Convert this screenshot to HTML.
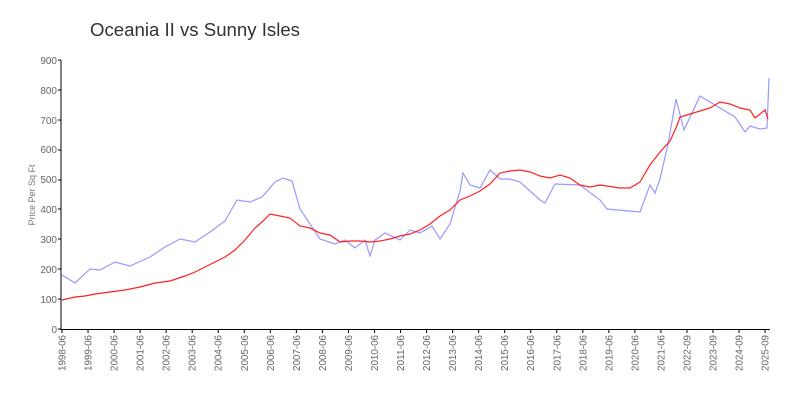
<!DOCTYPE html>
<html><head><meta charset="utf-8"><style>
body{margin:0;background:#fff;}
svg{display:block;font-family:"Liberation Sans",sans-serif;}
</style></head><body>
<svg width="800" height="400" viewBox="0 0 800 400" xmlns="http://www.w3.org/2000/svg">
<text x="90" y="36" font-size="18" fill="#333" font-family="Liberation Sans, sans-serif" textLength="210" lengthAdjust="spacingAndGlyphs">Oceania II vs Sunny Isles</text>
<text transform="translate(35,195) rotate(-90)" text-anchor="middle" font-size="9" fill="#777">Price Per Sq Ft</text>
<g font-size="10" fill="#666" text-anchor="end">
<text x="57" y="333">0</text><text x="57" y="303">100</text><text x="57" y="273">200</text><text x="57" y="243">300</text><text x="57" y="213">400</text><text x="57" y="183">500</text><text x="57" y="153">600</text><text x="57" y="124">700</text><text x="57" y="94">800</text><text x="57" y="64">900</text>
</g>
<g stroke="#000" stroke-width="1">
<line x1="61" y1="60" x2="61" y2="330"/>
<line x1="61" y1="329.5" x2="770" y2="329.5"/>
<line x1="58" y1="329" x2="61" y2="329"/><line x1="58" y1="299" x2="61" y2="299"/><line x1="58" y1="269" x2="61" y2="269"/><line x1="58" y1="239" x2="61" y2="239"/><line x1="58" y1="209" x2="61" y2="209"/><line x1="58" y1="180" x2="61" y2="180"/><line x1="58" y1="150" x2="61" y2="150"/><line x1="58" y1="120" x2="61" y2="120"/><line x1="58" y1="90" x2="61" y2="90"/><line x1="58" y1="60" x2="61" y2="60"/>
</g>
<g id="xt" font-size="10" fill="#666" text-anchor="end"></g>
<polyline fill="none" stroke="#9999ff" stroke-width="1.2" points="62,275 75,283 90,269 100,270 115,262 130,266 150,257 165,247 180,239 195,242 210,232 225,221 237,200 250,202 262,197 275,182 283,178 292,181 300,209 310,224 320,239 335,244 345,240 355,248 365,240 370,256 375,240 385,233 400,240 410,230 420,233 432,226 440,239 450,224 460,191 463,173 470,185 480,188 490,170 500,179 510,179 520,182 540,200 545,203 555,184 580,185 600,200 607,209 640,212 650,185 655,193 660,179 668,144 676,99 684,130 700,96 735,117 745,132 750,126 760,129 767,128 769,78"/>
<polyline fill="none" stroke="#ff2020" stroke-width="1.2" points="62,300 75,297 85,296 95,294 110,292 125,290 140,287 155,283 170,281 185,276 195,272 205,267 215,262 225,257 235,250 245,240 255,228 262,222 270,214 280,216 290,218 300,226 310,228 320,233 330,235 340,242 350,241 360,241 370,242 380,241 390,239 400,236 410,234 420,230 430,224 440,216 450,210 460,200 470,196 480,191 490,184 500,173 510,171 520,170 530,172 540,176 550,178 560,175 570,178 580,185 590,187 600,185 620,188 630,188 640,182 650,165 660,152 670,141 676,128 680,117 690,114 700,111 710,108 720,102 730,104 740,108 750,110 755,118 760,114 765,110 768,119"/>
</svg>
<script>
var labels=[];for(var y=1998;y<=2021;y++)labels.push(y+"-06");labels.push("2022-09","2023-09","2024-09","2025-09");
var g=document.getElementById("xt"),s="",ln="";
for(var i=0;i<labels.length;i++){var x=62+i*26.04;
s+='<text transform="translate('+(x+3.5)+',335) rotate(-90)" textLength="36" lengthAdjust="spacingAndGlyphs">'+labels[i]+'</text>';
ln+='<line x1="'+x+'" y1="329" x2="'+x+'" y2="333" stroke="#000"/>';}
g.innerHTML=s+ln;
</script>
</body></html>
